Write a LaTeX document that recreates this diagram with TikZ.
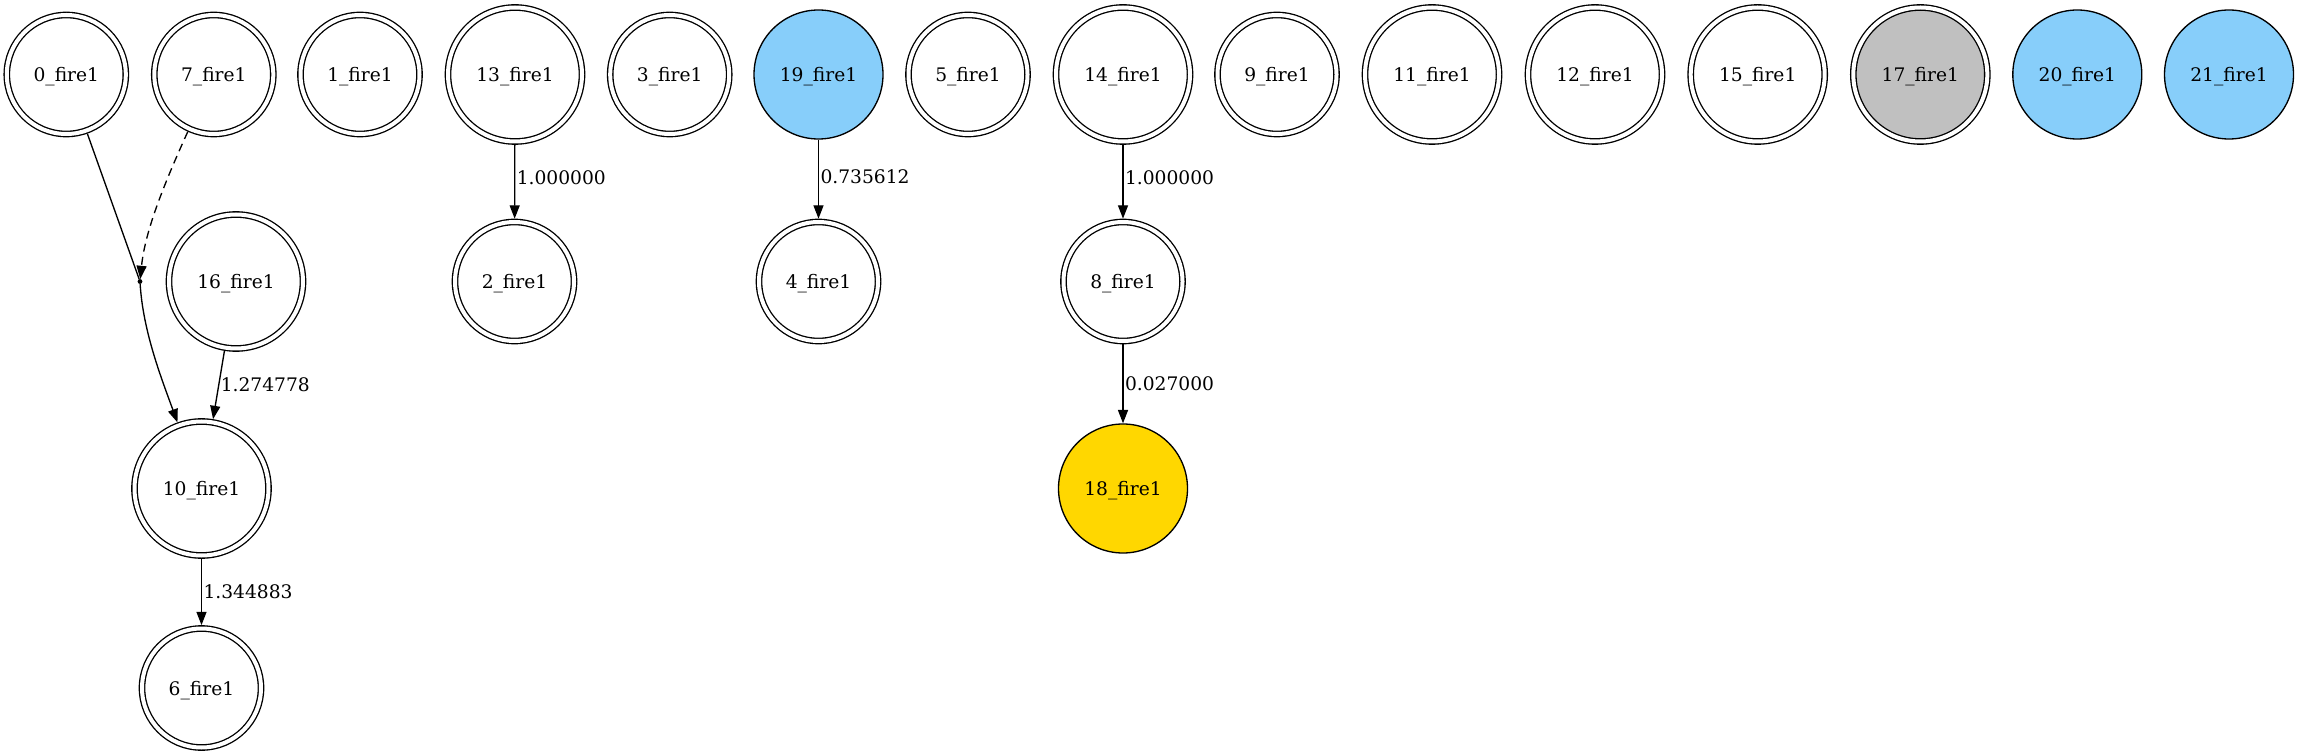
\documentclass[tikz,border=0pt]{standalone}
\usepackage{fontspec}
\setmainfont{DejaVu Serif}
\usetikzlibrary{arrows.meta}
\definecolor{skyblue}{HTML}{87CEFA}
\definecolor{gold}{HTML}{FFD700}
\definecolor{silver}{HTML}{C0C0C0}
\tikzset{
  fire/.style={circle, draw, line width=1pt, inner sep=0pt, text depth=0pt,
               font=\fontsize{14}{16}\selectfont},
  dfire/.style={fire, double, double distance=3pt, outer sep=2.5pt, minimum size=89.25pt},
  ddfire/.style={dfire, minimum size=100.5pt},
  sfire/.style={fire, minimum size=96.75pt},
  joint/.style={circle, fill, inner sep=0pt, outer sep=0pt, minimum size=3.6pt},
  wire/.style={line width=1pt, -{Triangle[length=10pt,width=7.5pt]}},
  wlabel/.style={midway, anchor=west, inner sep=1pt, font=\fontsize{14}{16}\selectfont}
}
\begin{document}
\begin{tikzpicture}[x=0.75pt, y=-0.75pt]
    \useasboundingbox (0, 0) rectangle (2299, 755);
    \node[dfire]  (n0)  at (66.3, 74.5)   {0\_fire1};
    \node[dfire]  (n7)  at (213.8, 74.5)  {7\_fire1};
    \node[dfire]  (n1)  at (360, 74.5)    {1\_fire1};
    \node[ddfire] (n13) at (515, 74.5)    {13\_fire1};
    \node[dfire]  (n3)  at (669.7, 74.5)  {3\_fire1};
    \node[sfire, fill=skyblue] (n19) at (818.5, 74.5) {19\_fire1};
    \node[dfire]  (n5)  at (968, 74.5)    {5\_fire1};
    \node[ddfire] (n14) at (1123, 74.5)   {14\_fire1};
    \node[dfire]  (n9)  at (1277, 74.5)   {9\_fire1};
    \node[ddfire] (n11) at (1432, 74.5)   {11\_fire1};
    \node[ddfire] (n12) at (1595, 74.5)   {12\_fire1};
    \node[ddfire] (n15) at (1757.7, 74.5) {15\_fire1};
    \node[ddfire, fill=silver] (n17) at (1920.3, 74.5) {17\_fire1};
    \node[sfire, fill=skyblue] (n20) at (2077.3, 74.5) {20\_fire1};
    \node[sfire, fill=skyblue] (n21) at (2229, 74.5)   {21\_fire1};

    \node[joint]  (pt)  at (140, 281.5)   {};
    \node[ddfire] (n16) at (236, 281.5)   {16\_fire1};
    \node[dfire]  (n2)  at (514.5, 281.5) {2\_fire1};
    \node[dfire]  (n4)  at (818.5, 281.5) {4\_fire1};
    \node[dfire]  (n8)  at (1123, 281.5)  {8\_fire1};

    \node[ddfire] (n10) at (201.5, 488.5) {10\_fire1};
    \node[sfire, fill=gold] (n18) at (1123, 488.5) {18\_fire1};
    \node[dfire]  (n6)  at (201.5, 688)   {6\_fire1};

    \draw[line width=1pt] (n0) -- (pt);
    \draw[wire, dash pattern=on 6pt off 4pt] (n7) .. controls +(-50, 110) and +(5, -50) .. (pt);
    \draw[wire] (pt) .. controls +(3, 50) and +(-40, -110) .. (n10);
    \draw[wire] (n16) -- (n10) node[wlabel] {1.274778};
    \draw[wire] (n10) -- (n6)  node[wlabel] {1.344883};
    \draw[wire] (n13) -- (n2)  node[wlabel, pos=0.44] {1.000000};
    \draw[wire] (n19) -- (n4)  node[wlabel, pos=0.47] {0.735612};
    \draw[wire] (n14) -- (n8)  node[wlabel, pos=0.44] {1.000000};
    \draw[wire] (n8)  -- (n18) node[wlabel] {0.027000};
\end{tikzpicture}
\end{document}
